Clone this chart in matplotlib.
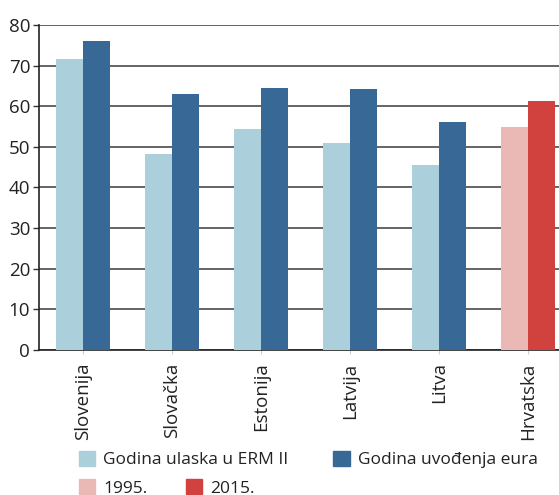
import matplotlib
matplotlib.use("Agg")
import matplotlib.pyplot as plt
import numpy as np
from matplotlib.patches import Patch

categories = ["Slovenija", "Slovačka", "Estonija", "Latvija", "Litva", "Hrvatska"]
erm_entry = [71.6, 48.2, 54.5, 50.9, 45.5]
euro_adoption = [76.0, 63.0, 64.4, 64.2, 56.0]
hr_1995 = [54.9]
hr_2015 = [61.3]
yticks = [0, 10, 20, 30, 40, 50, 60, 70, 80]

c_light = "#abd0dc"
c_dark = "#376896"
c_pink = "#eab8b5"
c_red = "#d1423f"

plt.rcParams['font.family'] = ["Open Sans", "DejaVu Sans"]

fig = plt.figure(figsize=(5.59, 4.95), dpi=100)
ax = fig.add_axes([0.069, 0.293, 0.931, 0.6565])

x = np.arange(len(categories))
w = 0.303
n = len(erm_entry)
ax.bar(x[:n] - w/2, erm_entry, width=w, color=c_light, zorder=3)
ax.bar(x[:n] + w/2, euro_adoption, width=w, color=c_dark, zorder=3)
ax.bar(x[n:] - w/2, hr_1995, width=w, color=c_pink, zorder=3)
ax.bar(x[n:] + w/2, hr_2015, width=w, color=c_red, zorder=3)

ax.set_xlim(-0.5, 5.35)
ax.set_ylim(0, 80)
ax.set_yticks(yticks)
ax.set_yticklabels([str(v) for v in yticks], fontsize=13.5, color="#222222")
ax.yaxis.grid(True, color="#3a3a3a", linewidth=1.1, zorder=0)
ax.set_axisbelow(True)
ax.set_xticks(x)
ax.set_xticklabels(categories, rotation=90, fontsize=13.5, color="#222222")
ax.tick_params(axis='x', length=3, color="#cccccc", pad=6)
ax.tick_params(axis='y', length=4, color="#333333", width=1, pad=2)
for s in ["top", "right"]:
    ax.spines[s].set_visible(False)
for s in ["left", "bottom"]:
    ax.spines[s].set_color("#222222")
    ax.spines[s].set_linewidth(1.2)

fs = 12.5
leg1 = fig.legend(handles=[Patch(color=c_light, label="Godina ulaska u ERM II"),
                           Patch(color=c_dark, label="Godina uvođenja eura")],
                  loc="upper left", bbox_to_anchor=(0.141, 0.089), ncol=2,
                  frameon=False, fontsize=fs, handlelength=0.95, handleheight=0.95,
                  handletextpad=0.45, columnspacing=2.6, borderaxespad=0, borderpad=0)
leg2 = fig.legend(handles=[Patch(color=c_pink, label="1995."),
                           Patch(color=c_red, label="2015.")],
                  loc="upper left", bbox_to_anchor=(0.141, 0.032), ncol=2,
                  frameon=False, fontsize=fs, handlelength=0.95, handleheight=0.95,
                  handletextpad=0.45, columnspacing=2.2, borderaxespad=0, borderpad=0)
for lg in (leg1, leg2):
    for t in lg.get_texts():
        t.set_color("#222222")

fig.savefig("out.png", dpi=100)
